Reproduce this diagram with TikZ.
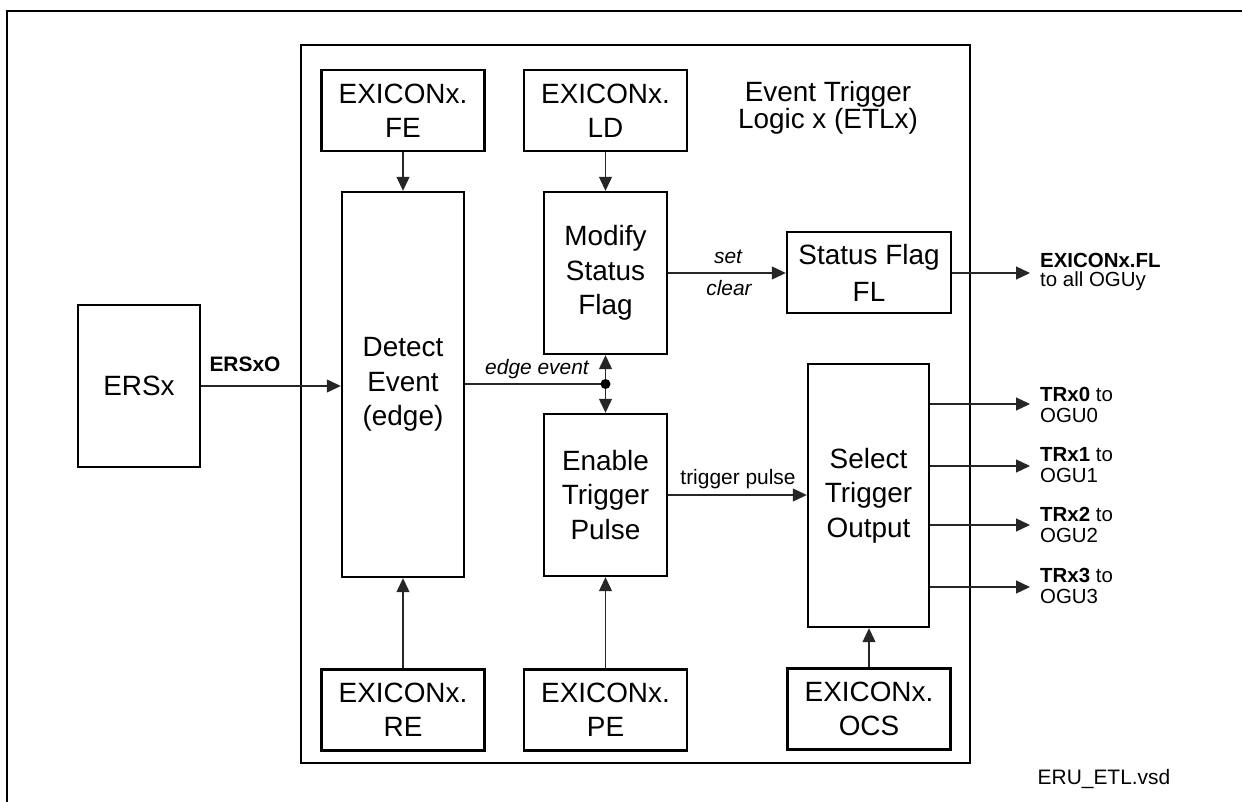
\documentclass[tikz,border=0pt]{standalone}
\usepackage{fontspec}
\setmainfont{Liberation Sans}
\usetikzlibrary{arrows.meta}
\begin{document}
\begin{tikzpicture}[x=1bp,y=-1bp,
  box/.style={draw,line width=2.4bp,rectangle,inner sep=0pt,align=center,font=\fontsize{28}{34.5}\selectfont},
  exi/.style={box,minimum width=163bp,minimum height=81bp},
  wire/.style={line width=1.2bp,draw=black!85},
  conn/.style={wire,-{Triangle[length=14bp,width=13bp]}},
  lbl/.style={font=\fontsize{21}{21}\selectfont,inner sep=0pt},
  ilbl/.style={font=\fontsize{21}{21}\selectfont\itshape,inner sep=0pt},
  olbl/.style={font=\fontsize{20.5}{21}\selectfont,inner sep=0pt,anchor=west,align=left}]
\useasboundingbox (0,0) rectangle (1242,802);
% outer frame (top and left edges visible)
\coordinate (otl) at (7,11);
\coordinate (otr) at (1242,11);
\coordinate (obl) at (7,802);
\draw[line width=1.8bp] (otr) -- (otl) -- (obl);
% inner frame
\node[draw,line width=2.6bp,minimum width=669bp,minimum height=718bp,inner sep=0pt] (etl) at (635.5,404) {};
\node[font=\fontsize{28}{27}\selectfont,align=center,inner sep=0pt] (title) at (828,108) {Event Trigger\\Logic x (ETLx)};
% boxes
\node[exi] (fe) at (403,110.5) {EXICONx.\\FE};
\node[exi] (ld) at (605.5,110.5) {EXICONx.\\LD};
\node[exi] (re) at (403,710) {EXICONx.\\RE};
\node[exi] (pe) at (605.5,710) {EXICONx.\\PE};
\node[exi] (ocs) at (869,709) {EXICONx.\\OCS};
\node[box,minimum width=122bp,minimum height=385bp] (det) at (403,384.5) {Detect\\Event\\(edge)};
\node[box,minimum width=123bp,minimum height=162bp] (mod) at (605.5,273) {Modify\\Status\\Flag};
\node[box,minimum width=123bp,minimum height=162bp] (ena) at (605.5,495) {Enable\\Trigger\\Pulse};
\node[box,minimum width=164bp,minimum height=81bp,font=\fontsize{28}{37}\selectfont] (fl) at (869,272.5) {Status Flag\\FL};
\node[box,minimum width=121bp,minimum height=263bp] (sel) at (868.5,495.5) {Select\\Trigger\\Output};
\node[box,minimum width=122bp,minimum height=162bp] (ers) at (139,386) {ERSx};
% connectors
\draw[conn] (fe) -- (det);
\draw[conn] (ld) -- (mod);
\draw[conn] (re) -- (det);
\draw[conn] (pe) -- (ena);
\draw[conn] (ocs.north) -- (ocs.north |- sel.south);
\draw[conn] (ers.east) -- (ers.east -| det.west);
\draw[conn] (mod.east) -- (mod.east -| fl.west);
\draw[conn] (ena.east) -- (ena.east -| sel.west);
\coordinate (j) at (605.5,384);
\draw[wire] (det.east |- j) -- (j);
\draw[conn] (j) -- (mod.south);
\draw[conn] (j) -- (ena.north);
\fill (j) circle (5bp);
% outputs
\coordinate (ofl) at (1030,273);
\coordinate (o0) at (1030,404);
\coordinate (o1) at (1030,466);
\coordinate (o2) at (1030,525);
\coordinate (o3) at (1030,587);
\draw[conn] (fl.east |- ofl) -- (ofl);
\draw[conn] (sel.east |- o0) -- (o0);
\draw[conn] (sel.east |- o1) -- (o1);
\draw[conn] (sel.east |- o2) -- (o2);
\draw[conn] (sel.east |- o3) -- (o3);
% labels
\node[lbl,font=\fontsize{21}{21}\selectfont\bfseries] (ersxo) at (245,364) {ERSxO};
\node[ilbl] (setl) at (728,257) {set};
\node[ilbl] (clearl) at (729,288) {clear};
\node[ilbl] (edgel) at (537,369) {edge event};
\node[lbl] (trigl) at (738,479) {trigger pulse};
\node[olbl,font=\fontsize{20.5}{19.5}\selectfont] (tfl) at (1040,272) {\textbf{EXICONx.FL}\\to all OGUy};
\node[olbl] (t0) at (1040,405) {\textbf{TRx0} to\\OGU0};
\node[olbl] (t1) at (1040,465) {\textbf{TRx1} to\\OGU1};
\node[olbl] (t2) at (1040,525) {\textbf{TRx2} to\\OGU2};
\node[olbl] (t3) at (1040,586) {\textbf{TRx3} to\\OGU3};
\node[lbl] (file) at (1104,779) {ERU\_ETL.vsd};
\end{tikzpicture}
\end{document}
